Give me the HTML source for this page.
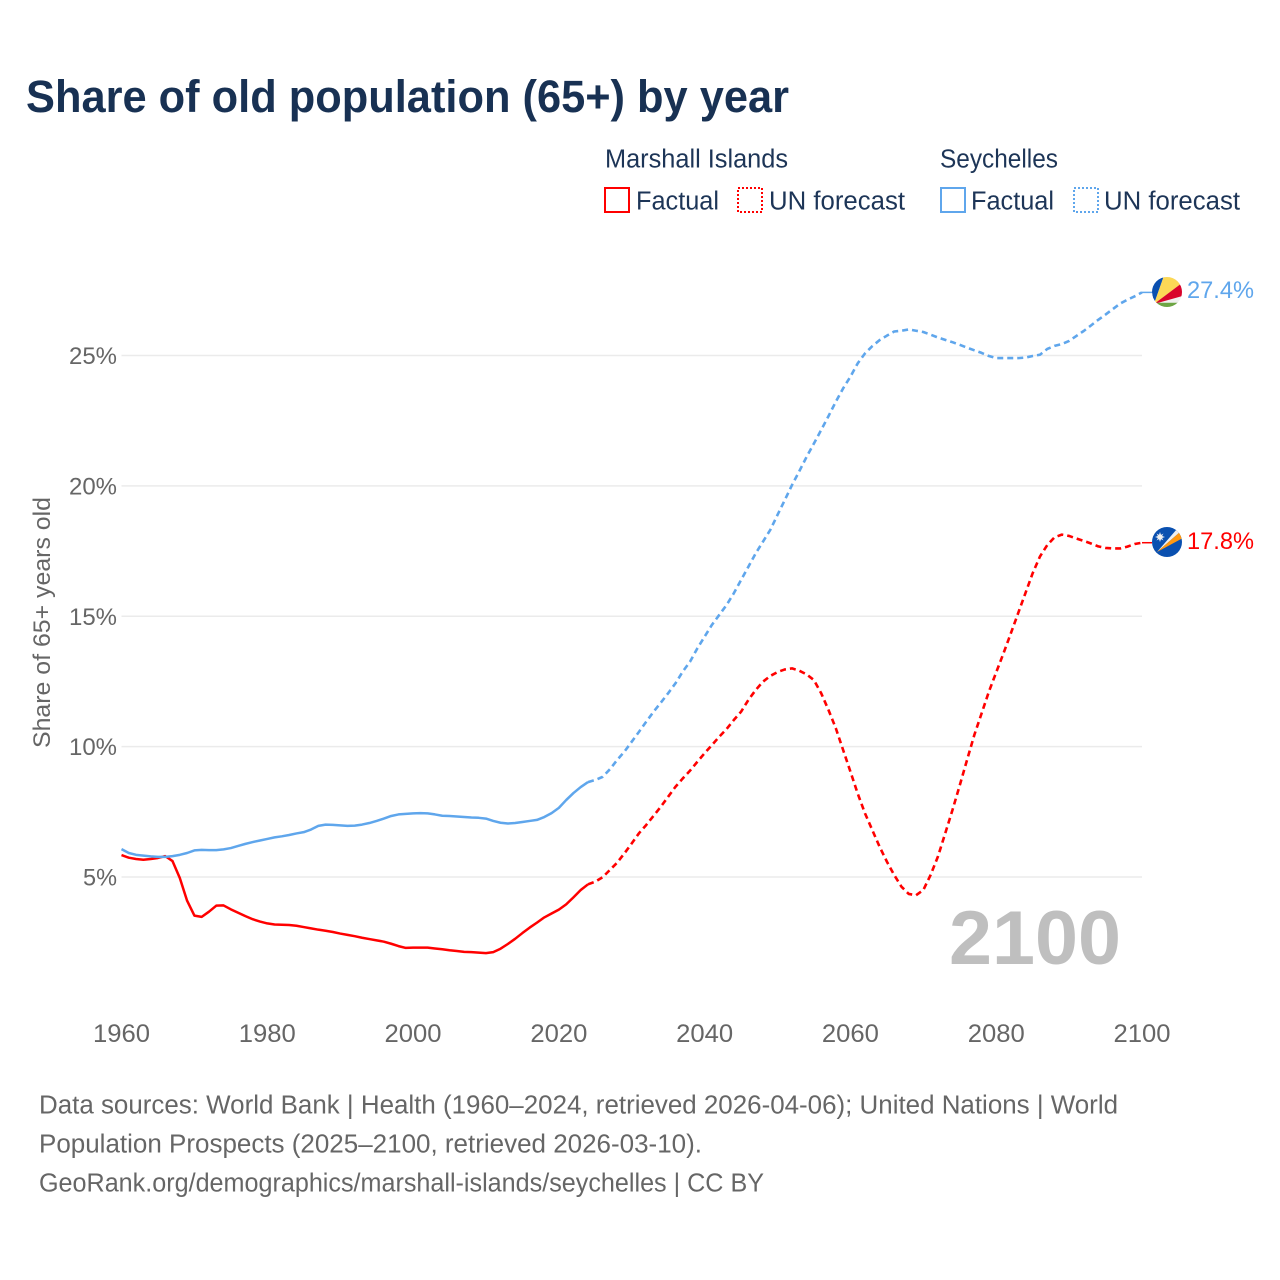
<!DOCTYPE html>
<html lang="en">
<head>
<meta charset="utf-8">
<title>Share of old population (65+) by year</title>
<style>
html,body{margin:0;padding:0;background:#fff;}
svg{display:block;font-family:"Liberation Sans",sans-serif;}
</style>
</head>
<body>
<svg id="chart" xmlns="http://www.w3.org/2000/svg" width="1280" height="1280" viewBox="0 0 1280 1280">
  <defs>
    <clipPath id="clip-sc"><circle cx="1167" cy="292" r="15"/></clipPath>
    <clipPath id="clip-mh"><circle cx="1167" cy="542" r="15"/></clipPath>
  </defs>
  <text x="26" y="112" font-size="45" font-weight="700" fill="#183153" textLength="763" lengthAdjust="spacingAndGlyphs">Share of old population (65+) by year</text>

  <g font-size="25.5" fill="#1d3557">
    <text x="605" y="167.5" textLength="183" lengthAdjust="spacingAndGlyphs">Marshall Islands</text>
    <text x="940" y="167.5" textLength="118" lengthAdjust="spacingAndGlyphs">Seychelles</text>
    <rect x="605" y="188" width="24" height="24" fill="none" stroke="#ff0000" stroke-width="2"/>
    <text x="636" y="209.5" textLength="83" lengthAdjust="spacingAndGlyphs">Factual</text>
    <rect x="738" y="188" width="24" height="24" fill="none" stroke="#ff0000" stroke-width="2" stroke-dasharray="2 2"/>
    <text x="769" y="209.5" textLength="136" lengthAdjust="spacingAndGlyphs">UN forecast</text>
    <rect x="941" y="188" width="24" height="24" fill="none" stroke="#5fa6ec" stroke-width="2"/>
    <text x="971" y="209.5" textLength="83" lengthAdjust="spacingAndGlyphs">Factual</text>
    <rect x="1074" y="188" width="24" height="24" fill="none" stroke="#5fa6ec" stroke-width="2" stroke-dasharray="2 2"/>
    <text x="1104" y="209.5" textLength="136" lengthAdjust="spacingAndGlyphs">UN forecast</text>
  </g>

  <g id="grid"></g>
  <g id="yticks"></g>
  <g id="xticks"></g>
  <text transform="translate(50,748) rotate(-90)" font-size="24" fill="#666666" textLength="251" lengthAdjust="spacingAndGlyphs">Share of 65+ years old</text>

  <text x="949" y="964" font-size="76" font-weight="700" fill="#bfbfbf" textLength="172" lengthAdjust="spacingAndGlyphs">2100</text>

  <g id="series"></g>

  <g clip-path="url(#clip-sc)">
    <rect x="1150" y="275" width="34" height="34" fill="#f0f0f0"/>
    <polygon points="1154,304 1148,270 1166,270" fill="#0a50b0"/>
    <polygon points="1154,304 1166,270 1186,270 1186,280" fill="#fcd856"/>
    <polygon points="1154,304 1186,280 1186,295" fill="#d9042b"/>
    <polygon points="1150,302.7 1186,302.7 1186,310 1150,310" fill="#6da544"/>
  </g>
  <g clip-path="url(#clip-mh)">
    <rect x="1150" y="525" width="34" height="34" fill="#0a50b0"/>
    <polygon points="1157,552 1177,529 1180,532" fill="#f0f0f0"/>
    <polygon points="1157,552 1180,532 1183,538" fill="#ff9811"/>
    <circle cx="1160" cy="537" r="2.6" fill="#f0f0f0"/>
    <polygon points="1160,532 1161,535 1163.5,533.5 1162,536 1165,537 1162,538 1163.5,540.5 1161,539 1160,542 1159,539 1156.5,540.5 1158,538 1155,537 1158,536 1156.5,533.5 1159,535" fill="#f0f0f0"/>
  </g>

  <text x="1187" y="298" font-size="24.5" fill="#5fa6ec" textLength="67" lengthAdjust="spacingAndGlyphs">27.4%</text>
  <text x="1187" y="549" font-size="24.5" fill="#ff0000" textLength="67" lengthAdjust="spacingAndGlyphs">17.8%</text>

  <g font-size="25.5" fill="#666666">
    <text x="39" y="1113.5" textLength="1079" lengthAdjust="spacingAndGlyphs">Data sources: World Bank | Health (1960–2024, retrieved 2026-04-06); United Nations | World</text>
    <text x="39" y="1152.5" textLength="663" lengthAdjust="spacingAndGlyphs">Population Prospects (2025–2100, retrieved 2026-03-10).</text>
    <text x="39" y="1191.5" textLength="725" lengthAdjust="spacingAndGlyphs">GeoRank.org/demographics/marshall-islands/seychelles | CC BY</text>
  </g>
</svg>
<script>
const factualStartYear = 1960;
const forecastStartYear = 2025;
const yTickValues = [5, 10, 15, 20, 25];
const yTickLabels = ["5%", "10%", "15%", "20%", "25%"];
const xTickYears = [1960, 1980, 2000, 2020, 2040, 2060, 2080, 2100];
const marshallFactual = [5.84,5.74,5.69,5.66,5.69,5.73,5.8,5.61,4.96,4.09,3.52,3.47,3.67,3.9,3.91,3.76,3.63,3.5,3.38,3.29,
  3.22,3.18,3.17,3.16,3.13,3.08,3.03,2.98,2.94,2.89,2.83,2.78,2.73,2.67,2.62,2.57,2.52,2.44,2.35,2.28,
  2.29,2.29,2.29,2.26,2.23,2.19,2.16,2.13,2.12,2.1,2.08,2.12,2.25,2.43,2.63,2.85,3.06,3.25,3.45,3.6,
  3.75,3.95,4.22,4.5,4.72];
const marshallForecast = [4.82,4.99,5.27,5.55,5.91,6.29,6.68,7.0,7.35,7.7,8.08,8.46,8.78,9.08,9.42,9.75,10.06,10.38,10.67,11.02,
  11.34,11.79,12.17,12.49,12.71,12.86,12.96,13.0,12.91,12.77,12.55,12.04,11.4,10.7,9.87,9.04,8.2,7.44,6.8,6.16,
  5.59,5.08,4.63,4.35,4.3,4.5,5.08,5.78,6.67,7.57,8.52,9.49,10.45,11.28,12.11,12.85,13.58,14.34,15.11,15.88,
  16.65,17.29,17.73,18.03,18.13,18.08,17.98,17.89,17.79,17.68,17.62,17.6,17.6,17.67,17.77,17.82];
const seychellesFactual = [6.07,5.92,5.85,5.82,5.79,5.77,5.77,5.8,5.85,5.92,6.02,6.04,6.03,6.03,6.06,6.11,6.19,6.27,6.34,6.4,
  6.46,6.52,6.56,6.61,6.67,6.72,6.82,6.96,7.01,7.0,6.98,6.96,6.97,7.01,7.07,7.15,7.24,7.34,7.4,7.42,
  7.44,7.45,7.44,7.4,7.35,7.34,7.32,7.3,7.28,7.27,7.24,7.15,7.08,7.05,7.07,7.11,7.15,7.19,7.3,7.45,
  7.65,7.95,8.22,8.45,8.64];
const seychellesForecast = [8.72,8.84,9.13,9.49,9.81,10.19,10.57,10.96,11.34,11.69,12.05,12.43,12.88,13.26,13.77,14.22,14.67,15.05,15.43,15.88,
  16.39,16.9,17.41,17.86,18.31,18.89,19.46,20.04,20.57,21.12,21.63,22.15,22.68,23.23,23.74,24.19,24.7,25.08,25.36,25.59,
  25.76,25.92,25.95,26.0,25.95,25.9,25.8,25.69,25.6,25.51,25.41,25.3,25.2,25.1,24.98,24.9,24.9,24.9,24.9,24.92,
  24.98,25.03,25.25,25.37,25.44,25.56,25.75,25.94,26.15,26.37,26.57,26.78,26.99,27.14,27.27,27.42];

const SVG_NS = "http://www.w3.org/2000/svg";
const RED = "#ff0000";
const BLUE = "#5fa6ec";
function xScale(year) { return 121.5 + (year - 1960) * (1142 - 121.5) / 140; }
function yScale(v) { return 877 - (v - 5) * (877 - 355.5) / 20; }
function pathFrom(startYear, values, lead) {
  const cmds = [];
  if (lead !== undefined) cmds.push("M" + xScale(startYear - 1).toFixed(2) + " " + yScale(lead).toFixed(2));
  values.forEach(function (v, i) {
    const c = cmds.length === 0 ? "M" : "L";
    cmds.push(c + xScale(startYear + i).toFixed(2) + " " + yScale(v).toFixed(2));
  });
  return cmds.join("");
}
const grid = document.getElementById("grid");
const yticks = document.getElementById("yticks");
const xticks = document.getElementById("xticks");
const series = document.getElementById("series");

yTickValues.forEach(function (v, i) {
  const line = document.createElementNS(SVG_NS, "line");
  
  
  line.setAttribute("x1", xScale(1960));
  line.setAttribute("x2", xScale(2100));
  line.setAttribute("y1", yScale(v));
  line.setAttribute("y2", yScale(v));
  line.setAttribute("stroke", "#ebebeb");
  line.setAttribute("stroke-width", "1.5");
  grid.appendChild(line);

  const t = document.createElementNS(SVG_NS, "text");
  
  
  t.setAttribute("x", 117);
  t.setAttribute("y", yScale(v) + 8.5);
  t.setAttribute("text-anchor", "end");
  t.setAttribute("font-size", "24");
  t.setAttribute("fill", "#666666");
  t.setAttribute("textLength", yTickLabels[i].length === 2 ? 34 : 48);
  t.setAttribute("lengthAdjust", "spacingAndGlyphs");
  t.textContent = yTickLabels[i];
  yticks.appendChild(t);
});

xTickYears.forEach(function (year) {
  const t = document.createElementNS(SVG_NS, "text");
  
  
  t.setAttribute("x", xScale(year));
  t.setAttribute("y", 1042);
  t.setAttribute("text-anchor", "middle");
  t.setAttribute("font-size", "25");
  t.setAttribute("fill", "#666666");
  t.setAttribute("textLength", 57);
  t.setAttribute("lengthAdjust", "spacingAndGlyphs");
  t.textContent = String(year);
  xticks.appendChild(t);
});

function addLine(d, color, dashed, name) {
  const p = document.createElementNS(SVG_NS, "path");
  
  
  p.setAttribute("d", d);
  p.setAttribute("fill", "none");
  p.setAttribute("stroke", color);
  p.setAttribute("stroke-width", dashed ? "2.6" : "2.5");
  p.setAttribute("stroke-linejoin", "round");
  if (dashed) p.setAttribute("stroke-dasharray", "6 4");
  series.appendChild(p);
}
function addConnector(values, color, name) {
  const last = values[values.length - 1];
  const c = document.createElementNS(SVG_NS, "line");
  
  
  c.setAttribute("x1", xScale(2100));
  c.setAttribute("x2", xScale(2100) + 10);
  c.setAttribute("y1", yScale(last));
  c.setAttribute("y2", yScale(last));
  c.setAttribute("stroke", color);
  c.setAttribute("stroke-width", "1.5");
  series.appendChild(c);
}
addLine(pathFrom(forecastStartYear, marshallForecast, marshallFactual[marshallFactual.length - 1]), RED, true, "marshall-forecast-line");
addLine(pathFrom(forecastStartYear, seychellesForecast, seychellesFactual[seychellesFactual.length - 1]), BLUE, true, "seychelles-forecast-line");
addLine(pathFrom(factualStartYear, marshallFactual), RED, false, "marshall-factual-line");
addLine(pathFrom(factualStartYear, seychellesFactual), BLUE, false, "seychelles-factual-line");
addConnector(marshallForecast, RED, "marshall-end-connector");
addConnector(seychellesForecast, BLUE, "seychelles-end-connector");
</script>
</body>
</html>
